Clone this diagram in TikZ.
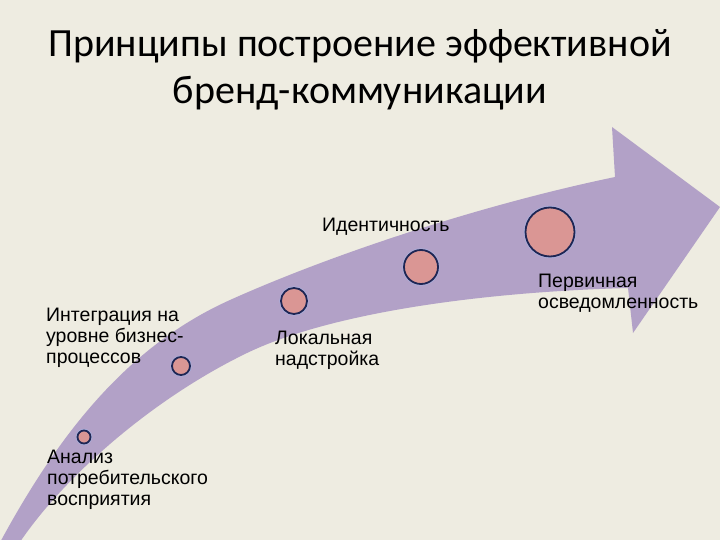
\documentclass[tikz,border=0pt]{standalone}
\usepackage{fontspec}
\newfontfamily\titlefont{Carlito}
\newfontfamily\lblfont{Liberation Sans}
\definecolor{slidebg}{RGB}{238,236,225}
\definecolor{arrowfill}{RGB}{178,161,199}
\definecolor{stagefill}{RGB}{218,150,148}
\definecolor{stageline}{RGB}{31,38,84}
\definecolor{stagehalo}{RGB}{168,176,222}
\tikzset{
  stage/.style={circle, draw=stageline, fill=stagefill, line width=1.8pt,
    inner sep=0pt, minimum size=#1,
    preaction={draw=stagehalo, line width=3.2pt}},
  lbl/.style={font=\lblfont\fontsize{19.5}{21}\selectfont, align=left,
    anchor=north west, inner sep=0pt, text=black}
}
\begin{document}
\begin{tikzpicture}[x=1pt,y=1pt,yscale=-1]
% slide background
\fill[slidebg] (0,0) rectangle (720,540);
\useasboundingbox (0,0) rectangle (720,540);

% title
\node[font=\titlefont\fontsize{40}{47}\selectfont, align=center, anchor=north,
  inner sep=0pt] (title) at (360,29) {Принципы построение эффективной\\бренд-коммуникации};

% curved arrow
\fill[arrowfill] (-3,548) .. controls (60,430) and (130,345) .. (230,300)
  .. controls (330,255) and (480,205) .. (615,177)
  -- (612,127) -- (720,207) -- (633,333) -- (628,288)
  .. controls (480,292) and (330,313) .. (247,353)
  .. controls (150,400) and (60,480) .. (16,548)
  -- cycle;

% stages along the arrow
\node[stage=13pt] (s1) at (84,437) {};
\node[stage=18pt] (s2) at (181,366) {};
\node[stage=26pt] (s3) at (294,301) {};
\node[stage=34pt] (s4) at (421,267) {};
\node[stage=49pt] (s5) at (550,232) {};

% labels
\node[lbl] (analysis) at (47,450) {Анализ\\потребительского\\восприятия};
\node[lbl] (integration) at (46,308) {Интеграция на\\уровне бизнес-\\процессов};
\node[lbl] (local) at (275,331) {Локальная\\надстройка};
\node[lbl] (identity) at (322,218) {Идентичность};
\node[lbl] (awareness) at (538,274) {Первичная\\осведомленность};
\end{tikzpicture}
\end{document}
